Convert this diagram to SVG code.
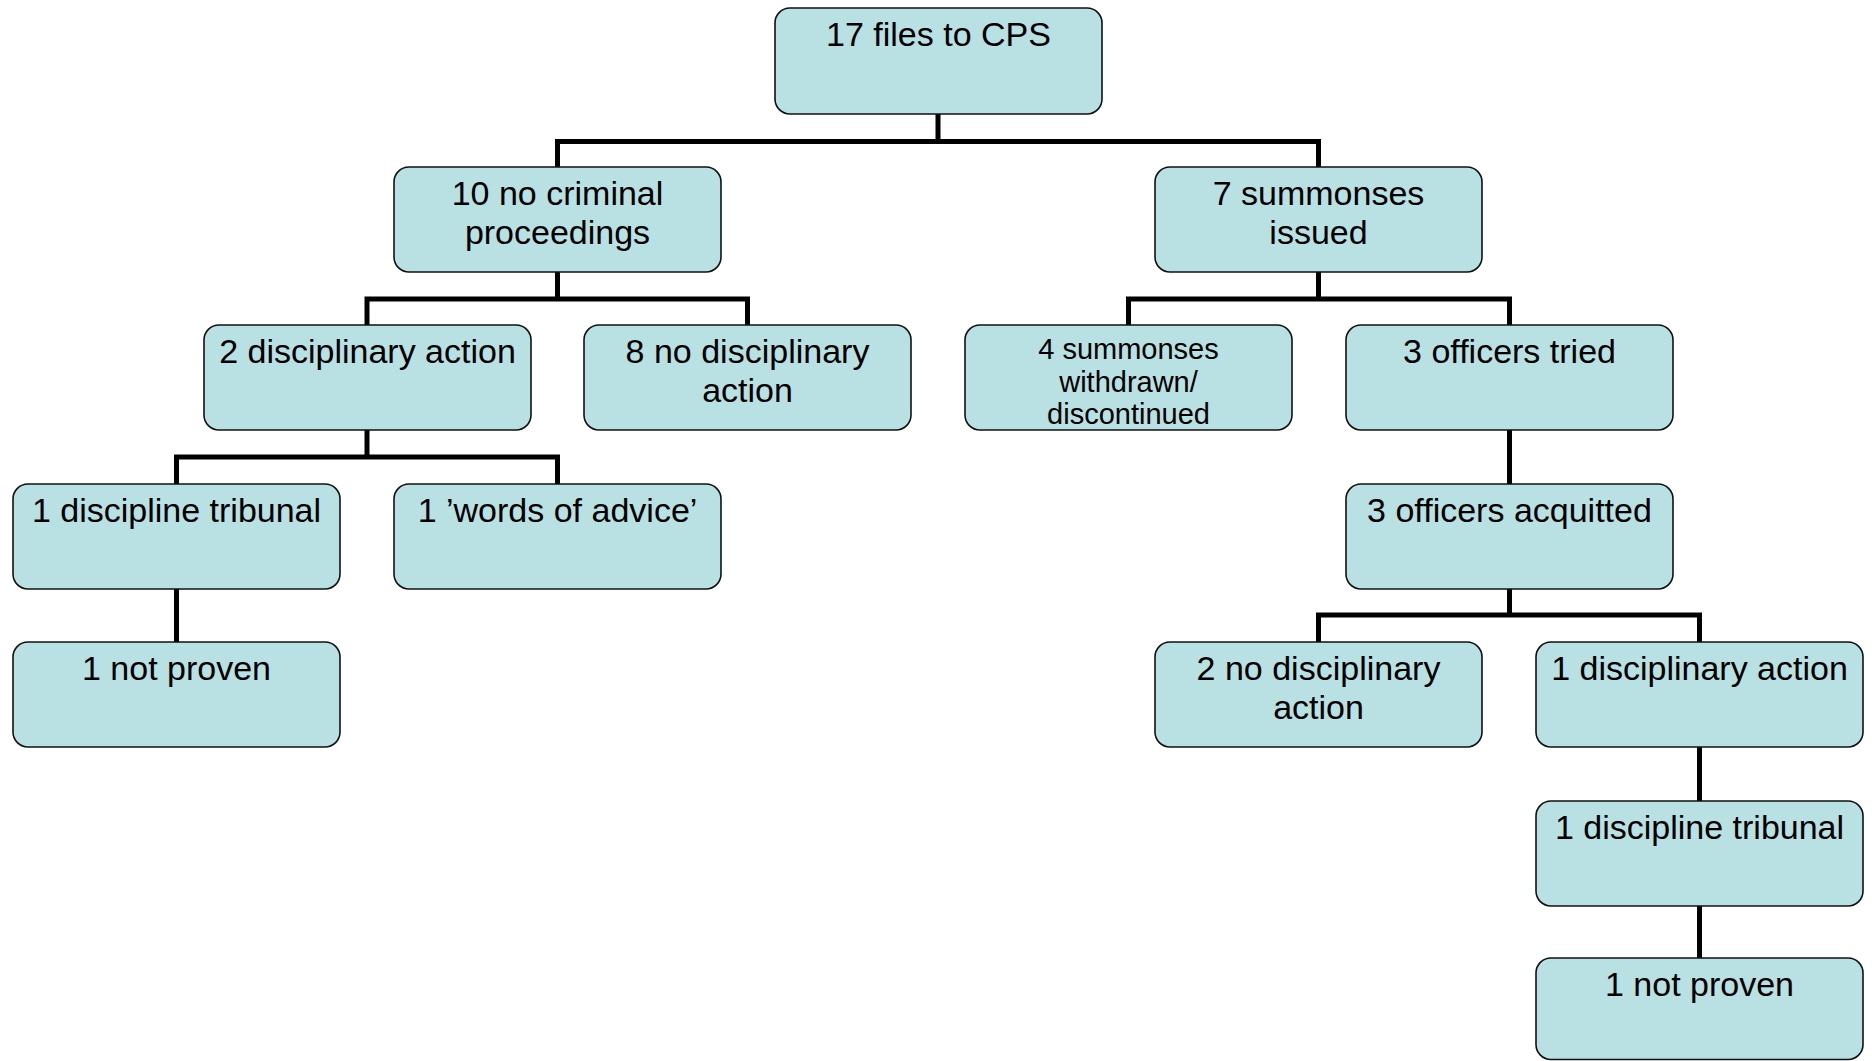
<svg xmlns="http://www.w3.org/2000/svg" width="1872" height="1061" viewBox="0 0 1872 1061">
<style>
.box{fill:#B9E0E3;stroke:#111;stroke-width:1.6}
.t{font-family:"Liberation Sans",Arial,sans-serif;font-size:34px;fill:#000;text-anchor:middle}
.s{font-family:"Liberation Sans",Arial,sans-serif;font-size:29px;fill:#000;text-anchor:middle}
.c{fill:none;stroke:#000;stroke-width:5;stroke-linecap:square}
</style>
<rect width="1872" height="1061" fill="#fff"/>
<g id="connectors">
<path class="c" d="M938 114V141.5M557.5 141.5H1318.5M557.5 141.5V167M1318.5 141.5V167"/>
<path class="c" d="M557.5 272V299M367 299H747.5M367 299V325M747.5 299V325"/>
<path class="c" d="M1318.5 272V299M1128.5 299H1509.5M1128.5 299V325M1509.5 299V325"/>
<path class="c" d="M367 430V457M176.5 457H557.5M176.5 457V484M557.5 457V484"/>
<path class="c" d="M1509.5 430V484"/>
<path class="c" d="M176.5 589V642"/>
<path class="c" d="M1509.5 589V615M1318.5 615H1699.5M1318.5 615V642M1699.5 615V642"/>
<path class="c" d="M1699.5 747V801"/>
<path class="c" d="M1699.5 906V958"/>
</g>
<g id="n1"><rect class="box" x="775" y="8" width="327" height="106" rx="15"/><text class="t" x="938.5" y="46">17 files to CPS</text></g>
<g id="n2"><rect class="box" x="394" y="167" width="327" height="105" rx="15"/><text class="t" x="557.5" y="205">10 no criminal</text><text class="t" x="557.5" y="244">proceedings</text></g>
<g id="n3"><rect class="box" x="1155" y="167" width="327" height="105" rx="15"/><text class="t" x="1318.5" y="205">7 summonses</text><text class="t" x="1318.5" y="244">issued</text></g>
<g id="n4"><rect class="box" x="204" y="325" width="327" height="105" rx="15"/><text class="t" x="367.5" y="363">2 disciplinary action</text></g>
<g id="n5"><rect class="box" x="584" y="325" width="327" height="105" rx="15"/><text class="t" x="747.5" y="363">8 no disciplinary</text><text class="t" x="747.5" y="402">action</text></g>
<g id="n6"><rect class="box" x="965" y="325" width="327" height="105" rx="15"/><text class="s" x="1128.5" y="359">4 summonses</text><text class="s" x="1128.5" y="392">withdrawn/</text><text class="s" x="1128.5" y="424">discontinued</text></g>
<g id="n7"><rect class="box" x="1346" y="325" width="327" height="105" rx="15"/><text class="t" x="1509.5" y="363">3 officers tried</text></g>
<g id="n8"><rect class="box" x="13" y="484" width="327" height="105" rx="15"/><text class="t" x="176.5" y="522">1 discipline tribunal</text></g>
<g id="n9"><rect class="box" x="394" y="484" width="327" height="105" rx="15"/><text class="t" x="557.5" y="522">1 ’words of advice’</text></g>
<g id="n10"><rect class="box" x="1346" y="484" width="327" height="105" rx="15"/><text class="t" x="1509.5" y="522">3 officers acquitted</text></g>
<g id="n11"><rect class="box" x="13" y="642" width="327" height="105" rx="15"/><text class="t" x="176.5" y="680">1 not proven</text></g>
<g id="n12"><rect class="box" x="1155" y="642" width="327" height="105" rx="15"/><text class="t" x="1318.5" y="680">2 no disciplinary</text><text class="t" x="1318.5" y="719">action</text></g>
<g id="n13"><rect class="box" x="1536" y="642" width="327" height="105" rx="15"/><text class="t" x="1699.5" y="680">1 disciplinary action</text></g>
<g id="n14"><rect class="box" x="1536" y="801" width="327" height="105" rx="15"/><text class="t" x="1699.5" y="839">1 discipline tribunal</text></g>
<g id="n15"><rect class="box" x="1536" y="958" width="327" height="101.5" rx="15"/><text class="t" x="1699.5" y="996">1 not proven</text></g>
</svg>
